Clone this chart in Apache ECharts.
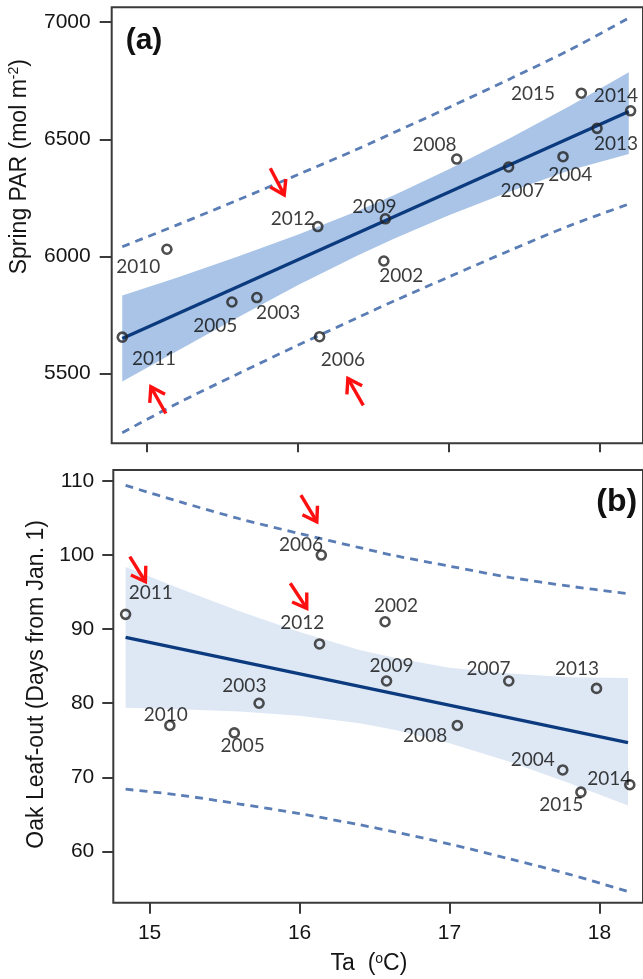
<!DOCTYPE html>
<html><head><meta charset="utf-8">
<script src="https://cdn.jsdelivr.net/npm/echarts@6/dist/echarts.min.js"></script>
<style>html,body{margin:0;padding:0;background:#fff}#c{width:643px;height:979px}</style>
</head><body><div id="c"></div>
<script>
// ---------- data ----------
const years = ['2002','2003','2004','2005','2006','2007','2008','2009','2010','2011','2012','2013','2014','2015'];
const ta = [16.57, 15.73, 17.755, 15.565, 16.145, 17.395, 17.052, 16.58, 15.135, 14.84, 16.133, 17.98, 18.202, 17.876];
const springPAR = [5981, 5825, 6426, 5806, 5658, 6382, 6416, 6161, 6031, 5656, 6128, 6547, 6622, 6697];
const oakLeafout = [91, 80, 71, 76, 100, 83, 77, 83, 77, 92, 88, 82, 69, 68];

const fitX = [14.84, 18.19];
const parFit = [5650, 6619];
const leafFit = [88.9, 74.7];

const bandX = [14.84, 15.2, 15.6, 16.0, 16.4, 16.64, 17.0, 17.4, 17.8, 18.19];
const parCIupper = [5834, 5910, 5999, 6093, 6195, 6263, 6372, 6504, 6642, 6786];
const parCIlower = [5467, 5596, 5739, 5877, 6005, 6077, 6176, 6276, 6368, 6438];
const parPIupper = [6042, 6134, 6240, 6349, 6460, 6530, 6636, 6757, 6882, 7018];
const parPIlower = [5248, 5372, 5498, 5621, 5740, 5811, 5913, 6025, 6132, 6224];
const leafCIupper = [98.4, 95.5, 92.4, 89.6, 87.2, 86.1, 84.8, 84.0, 83.5, 83.4];
const leafCIlower = [79.4, 79.2, 78.9, 78.3, 77.3, 76.4, 74.6, 72.1, 69.2, 66.2];
const leafPIupper = [109.4, 107.2, 104.9, 102.9, 101.0, 99.9, 98.5, 97.0, 95.8, 94.8];
const leafPIlower = [68.4, 67.6, 66.4, 65.1, 63.6, 62.6, 61.0, 59.0, 56.9, 54.6];

const taTicks = [15, 16, 17, 18];
const parTicks = [5500, 6000, 6500, 7000];
const leafTicks = [60, 70, 80, 90, 100, 110];

// arrows: [tailX, tailY, headX, headY] in data units
const parArrows = [[15.819, 6377, 15.911, 6263], [15.128, 5330, 15.029, 5444], [16.434, 5365, 16.332, 5480]];
const leafArrows = [[16.009, 108.1, 16.115, 104.5], [14.868, 99.8, 14.972, 96.4], [15.938, 96.2, 16.048, 92.8]];

// ---------- layout (label placement, px) ----------
const parLabelOffset = {
  '2002':[17.5,15.2],'2003':[21.3,15.7],'2004':[7.3,17.7],'2005':[-16.7,24],'2006':[23.3,22.7],
  '2007':[14,23.7],'2008':[-22.3,-14],'2009':[-11,-11.7],'2010':[-28.7,18],'2011':[31.7,22],
  '2012':[-25,-7.3],'2013':[19,15.7],'2014':[-14.7,-15],'2015':[-48.3,0.7]
};
const leafLabelOffset = {
  '2002':[11,-15.9],'2003':[-14.7,-17],'2004':[-30,-10],'2005':[8.3,13],'2006':[-20.3,-10.2],
  '2007':[-20.2,-12.2],'2008':[-32.2,10.6],'2009':[4.9,-14.7],'2010':[-4,-11],'2011':[25.2,-21],
  '2012':[-17.2,-20.8],'2013':[-19.5,-19.8],'2014':[-20.6,-5.6],'2015':[-19.7,13]
};

const chart = echarts.init(document.getElementById('c'), null, {renderer: 'canvas'});

const AX = '#3a3a3a';
const LABEL_FONT = 'Liberation Sans, Arial, sans-serif';
const YEAR_FONT = 'Lato, Open Sans, sans-serif';

function bandSeries(gi, xs, lo, hi, color) {
  return {
    type: 'custom', xAxisIndex: gi, yAxisIndex: gi, z: 1, silent: true,
    data: xs.map((x, i) => [x, lo[i], hi[i]]),
    renderItem: function (params, api) {
      if (params.dataIndex !== 0) return null;
      const pts = [];
      for (let i = 0; i < xs.length; i++) pts.push(api.coord([xs[i], hi[i]]));
      for (let i = xs.length - 1; i >= 0; i--) pts.push(api.coord([xs[i], lo[i]]));
      return {type: 'polygon', shape: {points: pts}, style: {fill: color, stroke: null}};
    }
  };
}
function dashedSeries(gi, xs, ys) {
  return {
    type: 'line', xAxisIndex: gi, yAxisIndex: gi, z: 2, silent: true,
    showSymbol: false, smooth: 0.3,
    data: xs.map((x, i) => [x, ys[i]]),
    lineStyle: {color: '#5a7db5', width: 2.8, type: [8, 6]}
  };
}
function fitSeries(gi, ys) {
  return {
    type: 'line', xAxisIndex: gi, yAxisIndex: gi, z: 3, silent: true, showSymbol: false,
    data: fitX.map((x, i) => [x, ys[i]]),
    lineStyle: {color: '#0c3a7f', width: 3.3}
  };
}
function scatterSeries(gi, ys, offs) {
  return {
    type: 'scatter', xAxisIndex: gi, yAxisIndex: gi, z: 4,
    symbol: 'circle', symbolSize: 9,
    itemStyle: {color: 'rgba(255,255,255,0)', borderColor: '#222', borderWidth: 2.6},
    label: {show: true, position: 'inside', formatter: '{b}', fontFamily: YEAR_FONT, fontSize: 19, color: '#0a0a0a'},
    data: years.map((yr, i) => ({name: yr, value: [ta[i], ys[i]], label: {offset: offs[yr]}}))
  };
}
function arrowSeries(gi, arrows) {
  return {
    type: 'custom', xAxisIndex: gi, yAxisIndex: gi, z: 5, silent: true,
    data: arrows,
    renderItem: function (params, api) {
      const p1 = api.coord([api.value(0), api.value(1)]);
      const p2 = api.coord([api.value(2), api.value(3)]);
      const ang = Math.atan2(p1[1] - p2[1], p1[0] - p2[0]);
      const L = 16, da = 0.58;
      const a1 = [p2[0] + L * Math.cos(ang + da), p2[1] + L * Math.sin(ang + da)];
      const a2 = [p2[0] + L * Math.cos(ang - da), p2[1] + L * Math.sin(ang - da)];
      const st = {stroke: '#ff1010', lineWidth: 3.4, fill: null, lineCap: 'butt', lineJoin: 'miter'};
      return {type: 'group', children: [
        {type: 'line', shape: {x1: p1[0], y1: p1[1], x2: p2[0], y2: p2[1]}, style: st},
        {type: 'polyline', shape: {points: [a1, p2, a2]}, style: st}
      ]};
    }
  };
}

const tickStyle = {color: AX, width: 2};
const labelStyle = {fontFamily: LABEL_FONT, fontSize: 21, color: '#151515', formatter: function (v) { return String(v); }};

const option = {
  animation: false,
  backgroundColor: '#fff',
  grid: [
    {left: 111.7, top: 7.3, width: 535.3, height: 436, show: true, borderColor: AX, borderWidth: 2, backgroundColor: 'transparent'},
    {left: 113.3, top: 470, width: 533.7, height: 432.7, show: true, borderColor: AX, borderWidth: 2, backgroundColor: 'transparent'}
  ],
  xAxis: [
    {gridIndex: 0, type: 'value', min: 14.770, max: 18.284,
     axisLine: {show: false}, splitLine: {show: false},
     axisTick: {show: true, inside: false, length: 9, customValues: taTicks, lineStyle: tickStyle},
     axisLabel: {show: false}},
    {gridIndex: 1, type: 'value', min: 14.758, max: 18.290,
     axisLine: {show: false}, splitLine: {show: false},
     axisTick: {show: true, inside: false, length: 11, customValues: taTicks, lineStyle: tickStyle},
     axisLabel: Object.assign({show: true, margin: 20, customValues: taTicks}, labelStyle)}
  ],
  yAxis: [
    {gridIndex: 0, type: 'value', min: 5203, max: 7063.6,
     axisLine: {show: false}, splitLine: {show: false},
     axisTick: {show: true, inside: false, length: 12, customValues: parTicks, lineStyle: tickStyle},
     axisLabel: Object.assign({show: true, margin: 21, customValues: parTicks}, labelStyle)},
    {gridIndex: 1, type: 'value', min: 53.08, max: 111.48,
     axisLine: {show: false}, splitLine: {show: false},
     axisTick: {show: true, inside: false, length: 11, customValues: leafTicks, lineStyle: tickStyle},
     axisLabel: Object.assign({show: true, margin: 19, customValues: leafTicks}, labelStyle)}
  ],
  graphic: [
    {type: 'text', x: 19.5, y: 166.7, rotation: Math.PI / 2, silent: true,
     style: {text: '{n|Spring PAR (mol m}{s|-2}{n|)}', align: 'center', verticalAlign: 'middle',
       rich: {n: {fontFamily: LABEL_FONT, fontSize: 23, fill: '#151515', lineHeight: 24},
              s: {fontFamily: LABEL_FONT, fontSize: 14, fill: '#151515', verticalAlign: 'top', lineHeight: 14}}}},
    {type: 'text', x: 36.3, y: 684.4, rotation: Math.PI / 2, silent: true,
     style: {text: 'Oak Leaf-out (Days from Jan. 1)', align: 'center', verticalAlign: 'middle',
       fontFamily: LABEL_FONT, fontSize: 23, fill: '#151515'}},
    {type: 'text', x: 369, y: 964, silent: true,
     style: {text: '{n|Ta  (}{s|o}{n|C)}', align: 'center', verticalAlign: 'middle',
       rich: {n: {fontFamily: LABEL_FONT, fontSize: 23, fill: '#151515', lineHeight: 24},
              s: {fontFamily: LABEL_FONT, fontSize: 14, fill: '#151515', verticalAlign: 'top', lineHeight: 14}}}},
    {type: 'text', x: 144, y: 41, silent: true,
     style: {text: '(a)', align: 'center', verticalAlign: 'middle', fontFamily: LABEL_FONT, fontWeight: 'bold', fontSize: 30, fill: '#111'}},
    {type: 'text', x: 616.7, y: 501.7, silent: true,
     style: {text: '(b)', align: 'center', verticalAlign: 'middle', fontFamily: LABEL_FONT, fontWeight: 'bold', fontSize: 32, fill: '#111'}}
  ],
  series: [
    bandSeries(0, bandX, parCIlower, parCIupper, '#a9c4e6'),
    dashedSeries(0, bandX, parPIupper),
    dashedSeries(0, bandX, parPIlower),
    fitSeries(0, parFit),
    scatterSeries(0, springPAR, parLabelOffset),
    arrowSeries(0, parArrows),
    bandSeries(1, bandX, leafCIlower, leafCIupper, '#dee8f5'),
    dashedSeries(1, bandX, leafPIupper),
    dashedSeries(1, bandX, leafPIlower),
    fitSeries(1, leafFit),
    scatterSeries(1, oakLeafout, leafLabelOffset),
    arrowSeries(1, leafArrows)
  ]
};
chart.setOption(option);
</script>
</body></html>
